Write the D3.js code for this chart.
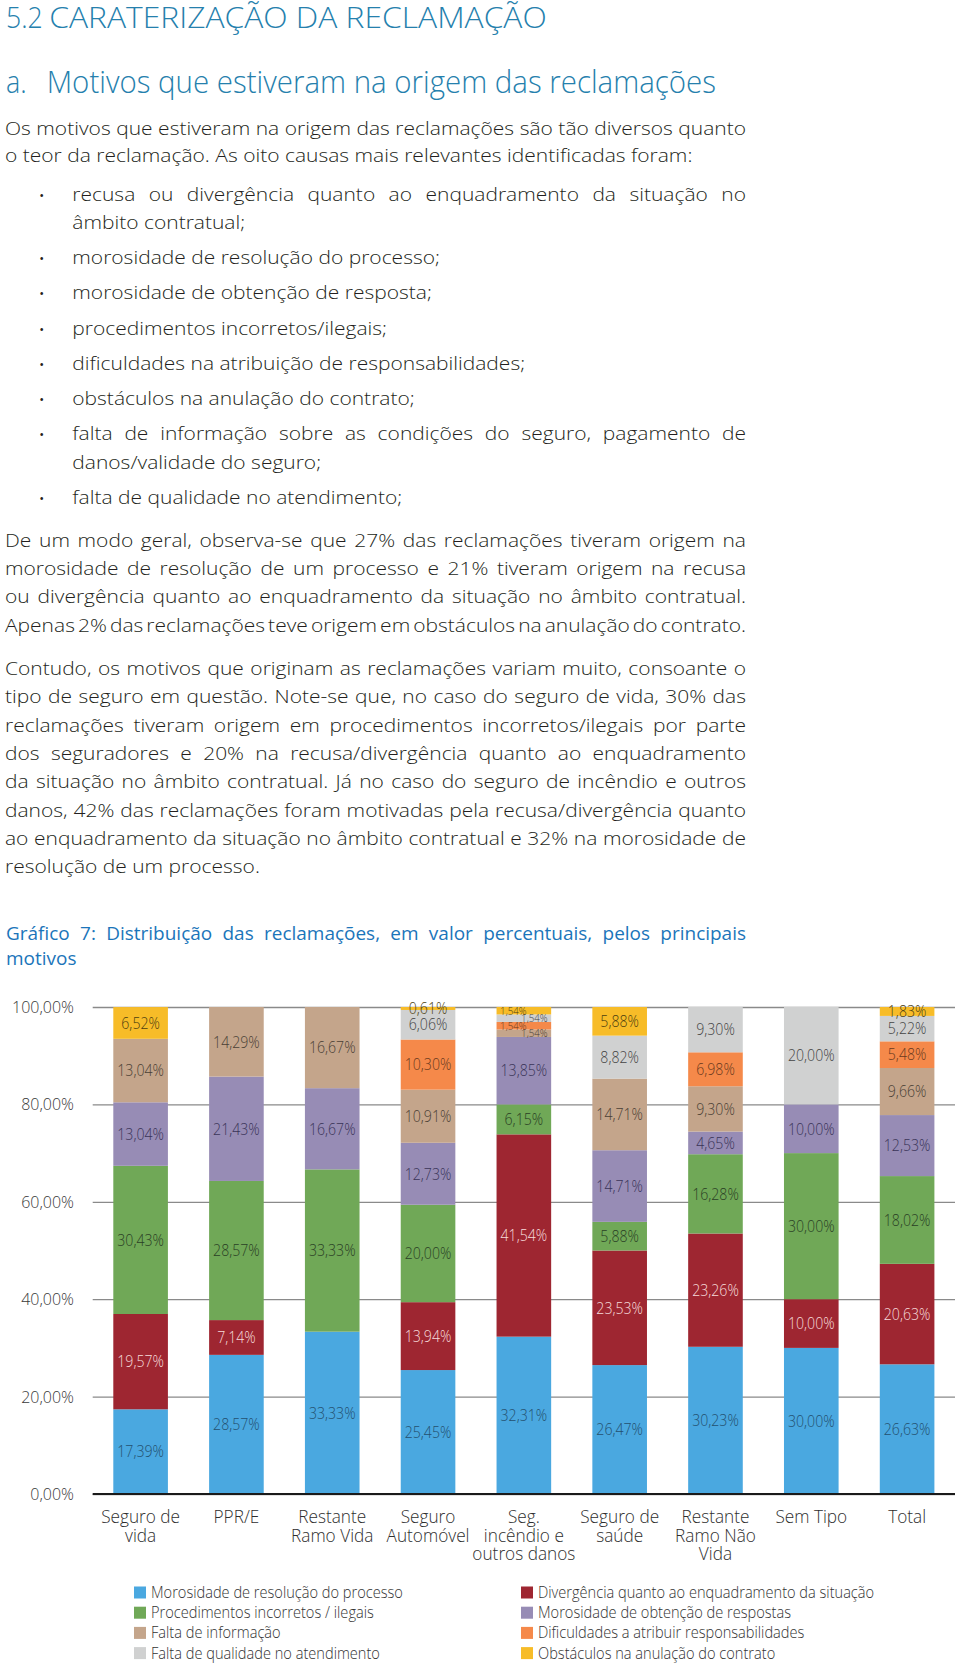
<!DOCTYPE html>
<html><head><meta charset="utf-8">
<script src="https://cdn.jsdelivr.net/npm/d3@7"></script>
<style>
html,body{margin:0;padding:0;background:#fff;}
svg{display:block;}
text{font-family:"Open Sans","Noto Sans",sans-serif;}
</style></head><body>
<svg id="c" width="960" height="1664"></svg>
<script>
// ---------------- DATA ----------------
const categories = ["Seguro de vida","PPR/E","Restante Ramo Vida","Seguro Automóvel","Seg. incêndio e outros danos","Seguro de saúde","Restante Ramo Não Vida","Sem Tipo","Total"];
const categoryLines = [["Seguro de","vida"],["PPR/E"],["Restante","Ramo Vida"],["Seguro","Automóvel"],["Seg.","incêndio e","outros danos"],["Seguro de","saúde"],["Restante","Ramo Não","Vida"],["Sem Tipo"],["Total"]];
const seriesNames = ["Morosidade de resolução do processo","Divergência quanto ao enquadramento da situação","Procedimentos incorretos / ilegais","Morosidade de obtenção de respostas","Falta de informação","Dificuldades a atribuir responsabilidades","Falta de qualidade no atendimento","Obstáculos na anulação do contrato"];
const seriesColors = ["#4aa8e0","#9e2631","#70a857","#978cb5","#c4a58b","#f5894a","#d0d1d1","#f7bc28"];
const labelColors  = ["#24506f","#f6dcdc","#2a3f25","#3a3458","#4a3f35","#6a3a1e","#444444","#4d3f10"];
const morosidadeResolucao = [17.39,28.57,33.33,25.45,32.31,26.47,30.23,30.00,26.63];
const divergencia         = [19.57,7.14,0,13.94,41.54,23.53,23.26,10.00,20.63];
const procedimentos       = [30.43,28.57,33.33,20.00,6.15,5.88,16.28,30.00,18.02];
const morosidadeObtencao  = [13.04,21.43,16.67,12.73,13.85,14.71,4.65,10.00,12.53];
const faltaInformacao     = [13.04,14.29,16.67,10.91,1.54,14.71,9.30,0,9.66];
const dificuldades        = [0,0,0,10.30,1.54,0,6.98,0,5.48];
const faltaQualidade      = [0,0,0,6.06,1.54,8.82,9.30,20.00,5.22];
const obstaculos          = [6.52,0,0,0.61,1.54,5.88,0,0,1.83];
const seriesValues = [morosidadeResolucao,divergencia,procedimentos,morosidadeObtencao,faltaInformacao,dificuldades,faltaQualidade,obstaculos];
const yTicks = [0,20,40,60,80,100];

// ---------------- TEXT ----------------
const headingNum = "5.2", headingText = "CARATERIZAÇÃO DA RECLAMAÇÃO";
const subNum = "a.", subText = "Motivos que estiveram na origem das reclamações";
const introLines = [
 ["Os motivos que estiveram na origem das reclamações são tão diversos quanto", true],
 ["o teor da reclamação. As oito causas mais relevantes identificadas foram:", false]
];
const bulletItems = [
 [["recusa ou divergência quanto ao enquadramento da situação no", true],["âmbito contratual;", false]],
 [["morosidade de resolução do processo;", false]],
 [["morosidade de obtenção de resposta;", false]],
 [["procedimentos incorretos/ilegais;", false]],
 [["dificuldades na atribuição de responsabilidades;", false]],
 [["obstáculos na anulação do contrato;", false]],
 [["falta de informação sobre as condições do seguro, pagamento de", true],["danos/validade do seguro;", false]],
 [["falta de qualidade no atendimento;", false]]
];
const para2 = [
 ["De um modo geral, observa-se que 27% das reclamações tiveram origem na", true],
 ["morosidade de resolução de um processo e 21% tiveram origem na recusa", true],
 ["ou divergência quanto ao enquadramento da situação no âmbito contratual.", true],
 ["Apenas 2% das reclamações teve origem em obstáculos na anulação do contrato.", true]
];
const para3 = [
 ["Contudo, os motivos que originam as reclamações variam muito, consoante o", true],
 ["tipo de seguro em questão. Note-se que, no caso do seguro de vida, 30% das", true],
 ["reclamações tiveram origem em procedimentos incorretos/ilegais por parte", true],
 ["dos seguradores e 20% na recusa/divergência quanto ao enquadramento", true],
 ["da situação no âmbito contratual. Já no caso do seguro de incêndio e outros", true],
 ["danos, 42% das reclamações foram motivadas pela recusa/divergência quanto", true],
 ["ao enquadramento da situação no âmbito contratual e 32% na morosidade de", true],
 ["resolução de um processo.", false]
];
const chartTitle = [
 ["Gráfico 7: Distribuição das reclamações, em valor percentuais, pelos principais", true],
 ["motivos", false]
];

// ---------------- HELPERS ----------------
const svg = d3.select("#c");
function measure(str, size, weight) {
  const t = svg.append("text").style("font-size", size+"px").style("font-weight", weight).text(str);
  const w = t.node().getComputedTextLength();
  t.remove();
  return w;
}
function fitK(str, size, weight, target) { return target / measure(str, size, weight); }
function line(parent, x, y, str, o) {
  const k = o.k;
  const t = parent.append("text")
    .attr("transform", `translate(${x},${y}) scale(${k},1)`)
    .attr("text-anchor", o.anchor || "start")
    .style("font-size", o.size + "px").style("font-weight", o.weight)
    .attr("fill", o.fill).text(str);
  if (o.width) {
    const w = t.node().getComputedTextLength();
    const n = (str.match(/ /g) || []).length;
    if (n) t.style("word-spacing", ((o.width / k - w) / n) + "px");
  }
  return t;
}

// ---------------- BODY TEXT ----------------
const BODY_SIZE = 18, BODY_W = 300, BODY_FILL = "#231f20";
const calib = [["morosidade de resolução do processo;",366],["procedimentos incorretos/ilegais;",318],["dificuldades na atribuição de responsabilidades;",453],["obstáculos na anulação do contrato;",344],["danos/validade do seguro;",252],["resolução de um processo.",252],["o teor da reclamação. As oito causas mais relevantes identificadas foram:",685]];
const K = d3.sum(calib, d => d[1]) / d3.sum(calib, d => measure(d[0], BODY_SIZE, BODY_W));
const body = {k: K, size: BODY_SIZE, weight: BODY_W, fill: BODY_FILL};

const HEAD_FILL = "#2580ad";
line(svg, 6, 28, headingNum, {k: fitK(headingNum, 28.5, 300, 36.7), size: 28.5, weight: 300, fill: HEAD_FILL});
line(svg, 49.3, 28, headingText, {k: fitK(headingText, 28.5, 300, 497.7), size: 28.5, weight: 300, fill: HEAD_FILL});
line(svg, 6, 93.3, subNum, {k: fitK(subNum, 32, 300, 20.7), size: 32, weight: 300, fill: HEAD_FILL});
line(svg, 46.7, 93.3, subText, {k: fitK(subText, 32, 300, 669.3), size: 32, weight: 300, fill: HEAD_FILL});

const LH = 28.35;
introLines.forEach((l, i) => line(svg, 5, 134.5 + i * 27.8, l[0], Object.assign({}, body, {width: l[1] ? 741 : 0})));
let by = 200.7;
bulletItems.forEach(item => {
  svg.append("text").attr("x", 41.6).attr("y", by - 1).attr("text-anchor", "middle")
    .style("font-size", "13px").attr("fill", BODY_FILL).text("•");
  item.forEach((l, j) => line(svg, 72.3, by + j * LH, l[0], Object.assign({}, body, {width: l[1] ? 673.7 : 0})));
  by += (item.length - 1) * LH + 35.2;
});
para2.forEach((l, i) => line(svg, 5, 546.7 + i * LH, l[0], Object.assign({}, body, {width: l[1] ? 741 : 0})));
para3.forEach((l, i) => line(svg, 5, 675 + i * LH, l[0], Object.assign({}, body, {width: l[1] ? 741 : 0})));
const TITLE_FILL = "#1b75ba";
const kTitle = fitK("motivos", 17.5, 400, 70.5);
chartTitle.forEach((l, i) => line(svg, 6, 939.5 + i * 25.5, l[0], {k: kTitle, size: 17.5, weight: 400, fill: TITLE_FILL, width: l[1] ? 740 : 0}));

// ---------------- CHART ----------------
const X0 = 92.7, X1 = 955;
const x = d3.scaleBand().domain(categories).range([X0, X1]).paddingInner(0.43).paddingOuter(0.215);
const y = d3.scaleLinear().domain([0, 100]).range([1494, 1007]);
const pt = d3.formatLocale({decimal: ",", thousands: ".", grouping: [3], currency: ["", "€"]});
const f2 = pt.format(".2f");
const pct = v => f2(v) + "%";

const TICK_SIZE = 17, kTick = fitK("100,00%", TICK_SIZE, 300, 62);
const gAxis = svg.append("g").attr("transform", `translate(${X0},0)`)
  .call(d3.axisLeft(y).tickValues(yTicks).tickSize(-(X1 - X0)).tickPadding(18.7).tickFormat(pct));
gAxis.select(".domain").remove();
gAxis.selectAll(".tick line").attr("stroke", "#8a8a8a").attr("stroke-width", 1.3);
gAxis.selectAll(".tick text")
  .attr("x", -18.7 / kTick).attr("transform", `scale(${kTick},1)`)
  .attr("font-family", null).attr("font-size", null)
  .style("font-size", TICK_SIZE + "px").style("font-weight", 300).attr("fill", "#3a3a3a");

const stacked = d3.stack().keys(d3.range(seriesValues.length)).value((i, k) => seriesValues[k][i])(d3.range(categories.length));
const gBars = svg.append("g");
gBars.selectAll("g").data(stacked).join("g").attr("fill", (d, k) => seriesColors[k])
  .selectAll("rect").data(d => d.map((s, i) => ({s, i}))).join("rect")
  .attr("x", d => x(categories[d.i])).attr("width", x.bandwidth())
  .attr("y", d => y(d.s[1])).attr("height", d => y(d.s[0]) - y(d.s[1]));

svg.append("line").attr("x1", X0).attr("x2", X1).attr("y1", y(0)).attr("y2", y(0))
  .attr("stroke", "#1a1a1a").attr("stroke-width", 2);

// data labels
const LBL = 16, kLbl = fitK("13,04%", LBL, 300, 46.7);
const gLbl = svg.append("g");
stacked.forEach((layer, k) => {
  layer.forEach((s, i) => {
    const v = seriesValues[k][i];
    if (!(v > 0)) return;
    const nSmall = seriesValues.filter(a => a[i] > 0 && a[i] < 2).length;
    const small = v < 2 && nSmall >= 2;
    const cx = x(categories[i]) + x.bandwidth() / 2 + (small ? (k % 2 === 0 ? 10.5 : -10.5) : 0);
    const cy = (y(s[0]) + y(s[1])) / 2;
    line(gLbl, cx, cy, pct(v), {k: kLbl, size: small ? 11 : LBL, weight: 300, fill: labelColors[k], anchor: "middle"})
      .attr("dy", "0.36em");
  });
});

// category axis (multi-line labels as tspans)
const CAT = 18, kCat = fitK("Seguro de", CAT, 300, 79);
const gX = svg.append("g").attr("transform", `translate(0,${y(0)})`).call(d3.axisBottom(x).tickSize(0));
gX.select(".domain").remove();
gX.selectAll(".tick text").remove();
gX.selectAll(".tick").each(function(c) {
  const lines = categoryLines[categories.indexOf(c)];
  const t = d3.select(this).append("text")
    .attr("transform", `translate(0,29) scale(${kCat},1)`)
    .attr("text-anchor", "middle")
    .style("font-size", CAT + "px").style("font-weight", 300).attr("fill", "#2e2e2e");
  lines.forEach((l, j) => t.append("tspan").attr("x", 0).attr("y", j * 18.5).text(l));
});

// legend
const LEG = 15.5, kLeg = fitK(seriesNames[0], LEG, 300, 252);
const legX = [134, 521], legTX = [151, 538];
seriesNames.forEach((n, i) => {
  const col = i % 2, row = Math.floor(i / 2);
  const cy = 1592.5 + row * 20.2;
  svg.append("rect").attr("x", legX[col]).attr("y", cy - 6).attr("width", 12).attr("height", 12).attr("fill", seriesColors[i]);
  line(svg, legTX[col], cy + 5.4, n, {k: kLeg, size: LEG, weight: 300, fill: "#333333"});
});
</script>
</body></html>
